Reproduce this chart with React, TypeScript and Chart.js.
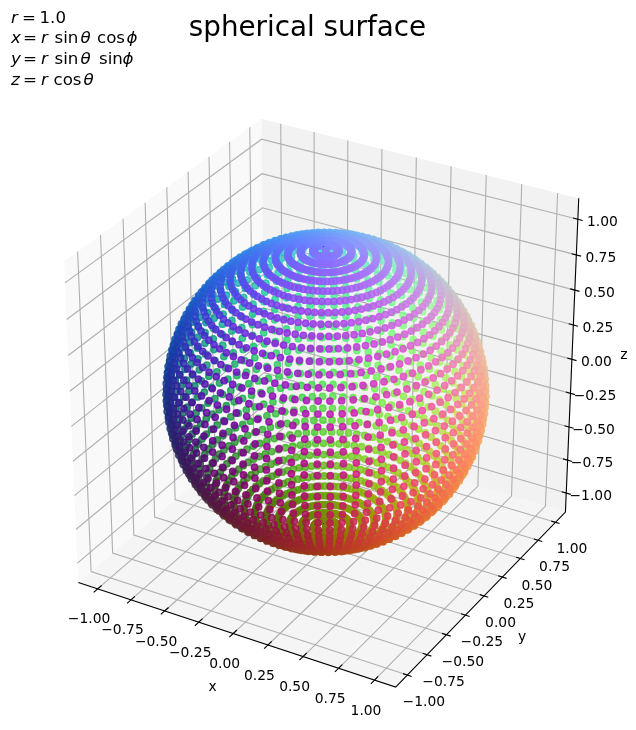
import React, { useEffect, useRef } from "react";
import { Chart, registerables } from "chart.js";

Chart.register(...registerables);

const tickValues = [-1, -0.75, -0.5, -0.25, 0, 0.25, 0.5, 0.75, 1];
const tickLabels = ["\u22121.00", "\u22120.75", "\u22120.50", "\u22120.25", "0.00", "0.25", "0.50", "0.75", "1.00"];
const thetaDeg = [0,4.5,9,13.5,18,22.5,27,31.5,36,40.5,45,49.5,54,58.5,63,67.5,72,76.5,81,85.5,90,94.5,99,103.5,108,112.5,117,121.5,126,130.5,135,139.5,144,148.5,153,157.5,162,166.5,171,175.5,180];
const phiDeg = [0,4.5,9,13.5,18,22.5,27,31.5,36,40.5,45,49.5,54,58.5,63,67.5,72,76.5,81,85.5,90,94.5,99,103.5,108,112.5,117,121.5,126,130.5,135,139.5,144,148.5,153,157.5,162,166.5,171,175.5,180,184.5,189,193.5,198,202.5,207,211.5,216,220.5,225,229.5,234,238.5,243,247.5,252,256.5,261,265.5,270,274.5,279,283.5,288,292.5,297,301.5,306,310.5,315,319.5,324,328.5,333,337.5,342,346.5,351,355.5];
const radius = 1.0;
const axisLimit = 1.146;

const W = 636, H = 730, CX = 326, CY = 392.3, SCALE = 3330;
const HALF = 0.55;
const U = [0.866025, 0.5, 0];
const V = [-0.25, 0.433013, 0.866025];
const D = [0.433013, -0.75, 0.5];
const dot = (a: number[], b: number[]) => a[0] * b[0] + a[1] * b[1] + a[2] * b[2];
function project(x: number, y: number, z: number) {
  const q = [(x / axisLimit) * HALF, (y / axisLimit) * HALF, (z / axisLimit) * HALF];
  const d = 10 - dot(q, D);
  return { x: dot(q, U) / d, y: dot(q, V) / d };
}

const L = axisLimit;
const FRONT_ALPHA = 0.85;
const BACK_ALPHA = 0.75;

type P = { x: number; y: number };
const spherePts: { p: P; c: string; depth: number }[] = [];
for (const t of thetaDeg) {
  for (const f of phiDeg) {
    const th = (t * Math.PI) / 180, ph = (f * Math.PI) / 180;
    const x = radius * Math.sin(th) * Math.cos(ph);
    const y = radius * Math.sin(th) * Math.sin(ph);
    const z = radius * Math.cos(th);
    const depth = dot([x, y, z], D);
    const a = BACK_ALPHA + ((FRONT_ALPHA - BACK_ALPHA) * (depth + 1)) / 2;
    const c = `rgba(${Math.round(((x + 1) / 2) * 255)},${Math.round(((y + 1) / 2) * 255)},${Math.round(((z + 1) / 2) * 255)},${a.toFixed(3)})`;
    spherePts.push({ p: project(x, y, z), c, depth });
  }
}
spherePts.sort((a, b) => a.depth - b.depth);

function poly(points: number[][], extra: object) {
  return {
    data: points.map((p) => project(p[0], p[1], p[2])),
    showLine: true,
    pointRadius: 0,
    pointHoverRadius: 0,
    borderJoinStyle: "miter",
    borderCapStyle: "butt",
    tension: 0,
    ...extra,
  };
}
const pane = (pts: number[][], color: string) =>
  poly(pts, { fill: "shape", backgroundColor: color, borderWidth: 0, borderColor: color, order: 10 });
const grid = (pts: number[][]) => poly(pts, { borderColor: "#b0b0b0", borderWidth: 1.11, fill: false, order: 9 });
const ink = (pts: number[][]) => poly(pts, { borderColor: "#000000", borderWidth: 1.11, fill: false, order: 8 });

function buildDatasets() {
  const ds: any[] = [
    pane([[-L, -L, -L], [-L, -L, L], [-L, L, L], [-L, L, -L]], "#f9f9f9"),
    pane([[-L, L, -L], [-L, L, L], [L, L, L], [L, L, -L]], "#f2f2f2"),
    pane([[-L, -L, -L], [L, -L, -L], [L, L, -L], [-L, L, -L]], "#f5f5f5"),
  ];
  for (const t of tickValues) {
    ds.push(grid([[t, -L, -L], [t, L, -L], [t, L, L]]));
    ds.push(grid([[-L, t, L], [-L, t, -L], [L, t, -L]]));
    ds.push(grid([[-L, -L, t], [-L, L, t], [L, L, t]]));
    ds.push(ink([[t, -L - 0.045, -L], [t, -L + 0.045, -L]]));
    ds.push(ink([[L + 0.03, t, -L], [L - 0.03, t, -L]]));
    ds.push(ink([[L + 0.033, L, t], [L - 0.033, L, t]]));
  }
  ds.push(ink([[-L, -L, -L], [L, -L, -L], [L, L, -L], [L, L, L]]));
  ds.push({
    data: spherePts.map((s) => s.p),
    showLine: false,
    pointRadius: 3.2,
    pointHoverRadius: 3.2,
    pointBorderWidth: 1.39,
    pointBorderColor: spherePts.map((s) => s.c),
    pointBackgroundColor: spherePts.map((s) => s.c),
    order: 1,
  });
  return ds;
}

const FONT = '"DejaVu Sans"';
type Tok = [string, number, boolean];
const formula: Tok[][] = [
  [["r", 11, true], ["=", 22, false], ["1.0", 39.5, false]],
  [["x", 11, true], ["=", 23, false], ["r", 41, true], ["sin", 54.5, false], ["\u03b8", 80.5, true], ["cos", 97, false], ["\u03d5", 126.5, true]],
  [["y", 11, true], ["=", 23, false], ["r", 41, true], ["sin", 54.5, false], ["\u03b8", 80.5, true], ["sin", 99, false], ["\u03d5", 122.5, true]],
  [["z", 11, true], ["=", 23, false], ["r", 41, true], ["cos", 53.5, false], ["\u03b8", 83.5, true]],
];
const formulaBaselines = [22.7, 43.3, 64, 85];

const textPlugin = {
  id: "sphereText",
  afterDraw(chart: any) {
    const { ctx, scales } = chart;
    const px = (p: P) => ({ x: scales.x.getPixelForValue(p.x), y: scales.y.getPixelForValue(p.y) });
    ctx.save();
    ctx.fillStyle = "#000";
    ctx.textAlign = "center";
    ctx.textBaseline = "middle";
    ctx.font = `13.89px ${FONT}`;
    tickValues.forEach((t, i) => {
      let p = px(project(t, -L, -L));
      ctx.fillText(tickLabels[i], p.x - 8.5, p.y + 31);
      p = px(project(L, t, -L));
      ctx.fillText(tickLabels[i], p.x + 16.5, p.y + 27.5);
      p = px(project(L, L, t));
      ctx.fillText(tickLabels[i], p.x + 24.5, p.y + 3.5);
    });
    let p = px(project(0, -L, -L));
    ctx.fillText("x", p.x - 20.5, p.y + 54);
    p = px(project(L, 0, -L));
    ctx.fillText("y", p.x + 38, p.y + 41);
    p = px(project(L, L, 0));
    ctx.fillText("z", p.x + 52, p.y - 4);
    ctx.textBaseline = "alphabetic";
    ctx.font = `27.78px ${FONT}`;
    ctx.fillText("spherical surface", 307.5, 36);
    ctx.textAlign = "left";
    formula.forEach((line, i) => {
      for (const [s, x, it] of line) {
        ctx.font = `${it ? "italic " : ""}16.67px ${FONT}`;
        ctx.fillText(s, x, formulaBaselines[i]);
      }
    });
    ctx.restore();
  },
};

export default function App() {
  const ref = useRef<HTMLCanvasElement>(null);
  useEffect(() => {
    document.body.style.margin = "0";
    const chart = new Chart(ref.current!, {
      type: "scatter",
      data: { datasets: buildDatasets() },
      options: {
        animation: false,
        responsive: false,
        devicePixelRatio: 1,
        layout: { padding: 0, autoPadding: false },
        events: [],
        plugins: { legend: { display: false }, tooltip: { enabled: false }, title: { display: false } },
        scales: {
          x: { type: "linear", display: false, bounds: "data", min: -CX / SCALE, max: (W - CX) / SCALE },
          y: { type: "linear", display: false, bounds: "data", min: (CY - H) / SCALE, max: CY / SCALE },
        },
      },
      plugins: [textPlugin],
    } as any);
    return () => chart.destroy();
  }, []);
  return <canvas ref={ref} width={W} height={H} style={{ display: "block", width: W, height: H }} />;
}
